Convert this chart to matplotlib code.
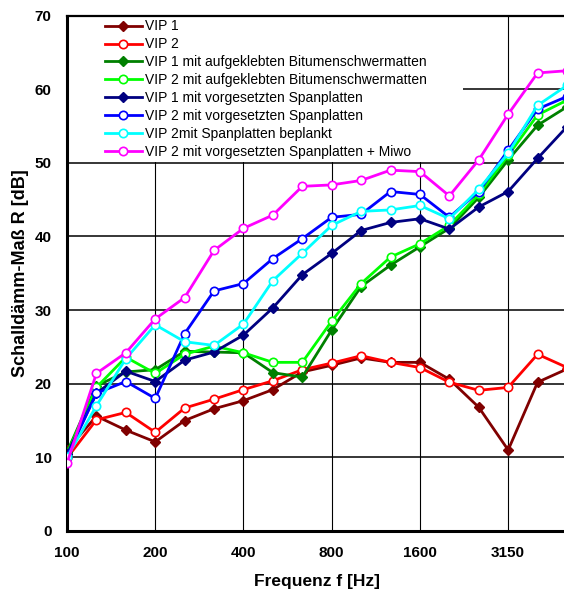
import matplotlib
matplotlib.use("Agg")
import matplotlib.pyplot as plt
from matplotlib.patches import Rectangle
from matplotlib.lines import Line2D

freqs = ['100', '125', '160', '200', '250', '315', '400', '500', '630', '800',
         '1000', '1250', '1600', '2000', '2500', '3150', '4000', '5000']
tick_labels = ['100', '200', '400', '800', '1600', '3150']

vip1 = [11.0, 15.6, 13.7, 12.1, 15.0, 16.6, 17.7, 19.2, 21.6, 22.5, 23.5, 22.9, 22.9, 20.6, 16.8, 11.0, 20.2, 22.0]
vip2 = [9.9, 15.1, 16.1, 13.4, 16.7, 17.9, 19.2, 20.4, 21.9, 22.8, 23.8, 22.9, 22.2, 20.2, 19.1, 19.5, 24.0, 22.2]
vip1_bit = [10.7, 19.7, 21.6, 21.9, 24.4, 24.3, 24.2, 21.5, 20.9, 27.3, 33.2, 36.1, 38.6, 41.1, 45.3, 50.4, 55.1, 57.6]
vip2_bit = [10.5, 19.5, 23.6, 21.4, 24.0, 25.1, 24.2, 22.9, 22.9, 28.5, 33.6, 37.2, 39.0, 41.5, 45.7, 51.0, 56.5, 58.5]
vip1_span = [10.4, 18.7, 21.7, 20.3, 23.2, 24.3, 26.6, 30.3, 34.8, 37.7, 40.8, 41.9, 42.4, 41.0, 44.0, 46.1, 50.6, 54.9]
vip2_span = [10.1, 18.7, 20.3, 18.0, 26.8, 32.6, 33.6, 37.0, 39.7, 42.6, 43.0, 46.1, 45.7, 42.6, 46.1, 51.7, 57.3, 59.0]
vip2_bepl = [10.0, 17.0, 23.4, 28.0, 25.7, 25.2, 28.1, 34.0, 37.7, 41.5, 43.4, 43.6, 44.2, 42.4, 46.4, 51.3, 57.8, 60.5]
vip2_miwo = [9.2, 21.4, 24.2, 28.8, 31.7, 38.1, 41.1, 42.9, 46.8, 47.0, 47.6, 49.0, 48.8, 45.5, 50.4, 56.6, 62.2, 62.5]

labels = ['VIP 1', 'VIP 2',
          'VIP 1 mit aufgeklebten Bitumenschwermatten',
          'VIP 2 mit aufgeklebten Bitumenschwermatten',
          'VIP 1 mit vorgesetzten Spanplatten',
          'VIP 2 mit vorgesetzten Spanplatten',
          'VIP 2mit Spanplatten beplankt',
          'VIP 2 mit vorgesetzten Spanplatten + Miwo']
series = [vip1, vip2, vip1_bit, vip2_bit, vip1_span, vip2_span, vip2_bepl, vip2_miwo]
colors = ['#800000', '#FF0000', '#008000', '#00FF00', '#000080', '#0000FF', '#00FFFF', '#FF00FF']
filled = [True, False, True, False, True, False, False, False]

plt.rcParams['font.family'] = ['Liberation Sans', 'DejaVu Sans']

W, H = 564, 594
fig = plt.figure(figsize=(W / 100, H / 100), dpi=100)
left_px, right_px, top_px, bot_px = 67, 567, 15.5, 531
ax = fig.add_axes([left_px / W, 1 - bot_px / H, (right_px - left_px) / W, (bot_px - top_px) / H])

x = list(range(len(freqs)))
handles = []
for s, c, f, lab in zip(series, colors, filled, labels):
    if f:
        kw = dict(marker='D', markersize=5.5, markerfacecolor=c, markeredgecolor=c)
    else:
        kw = dict(marker='o', markersize=6, markerfacecolor='white', markeredgecolor=c, markeredgewidth=1.2)
    ax.plot(x, s, color=c, linewidth=2.0, zorder=3, clip_on=True, **kw)
    handles.append(Line2D([], [], color=c, linewidth=2.0, **kw))

ax.set_xlim(0, len(freqs) - 1)
ax.set_ylim(0, 70)
ax.set_yticks(range(0, 71, 10))
ax.set_xticks([freqs.index(t) for t in tick_labels])
ax.set_xticklabels(tick_labels)
ax.tick_params(axis='both', length=0, labelsize=11)
ax.tick_params(axis='x', pad=11)
ax.tick_params(axis='y', pad=11)
for lbl in ax.get_xticklabels() + ax.get_yticklabels():
    lbl.set_fontweight('bold')

ax.set_axisbelow(True)
ax.grid(axis='y', color='black', linewidth=1.1)
ax.grid(axis='x', color='black', linewidth=0.8)

for side in ['left', 'bottom']:
    ax.spines[side].set_linewidth(2.2)
ax.spines['top'].set_linewidth(1.6)
ax.spines['right'].set_visible(False)

ax.set_xlabel('Frequenz f [Hz]', fontsize=12.5, fontweight='bold', labelpad=10)
ax.set_ylabel('Schalldämm-Maß R [dB]', fontsize=13, fontweight='bold', labelpad=4)

# white legend area covering grid lines
box_right = (463 - left_px) / (right_px - left_px)
box_bottom = 1 - (162.5 - top_px) / (bot_px - top_px)
ax.add_patch(Rectangle((0, box_bottom), box_right, 1 - box_bottom, transform=ax.transAxes,
                       facecolor='white', edgecolor='none', zorder=1))

leg = ax.legend(handles, labels, loc='upper left',
                bbox_to_anchor=((105 - left_px) / (right_px - left_px), 1 - (19.5 - top_px) / (bot_px - top_px)),
                frameon=False, fontsize=10, borderpad=0, borderaxespad=0,
                handlelength=2.65, handletextpad=0.25, labelspacing=0.28)
leg.set_zorder(5)

fig.savefig('out.png', dpi=100)
